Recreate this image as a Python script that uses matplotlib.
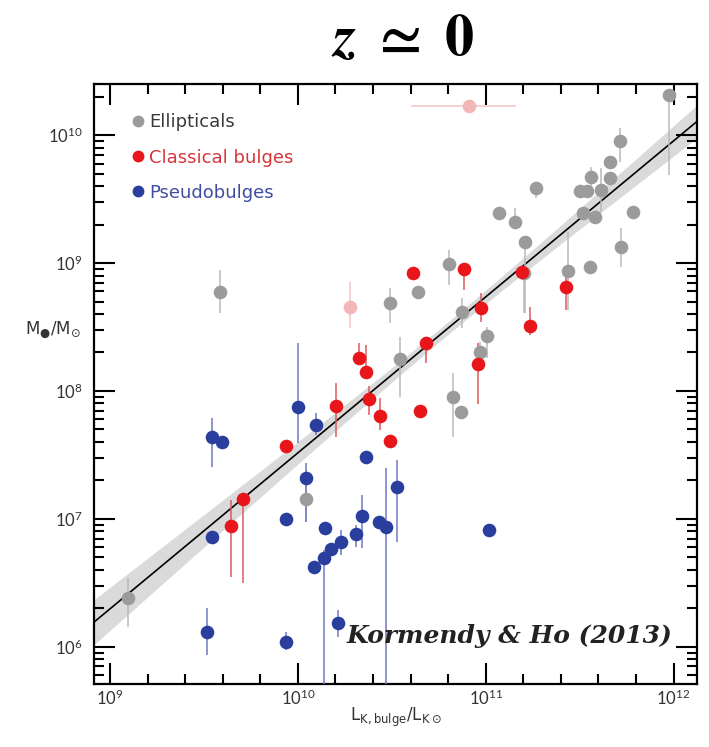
import numpy as np
import matplotlib
matplotlib.use("Agg")
import matplotlib.pyplot as plt
from matplotlib.ticker import FixedLocator, LogLocator, NullFormatter
from matplotlib.lines import Line2D

# ---- data (log10 values) -------------------------------------------------
# Ellipticals: log L_K, log M_BH, lower / upper error limits on log M_BH
ell_logL = [9.585, 10.489, 11.975, 11.713, 11.660, 11.663, 11.559, 11.503, 11.539,
            11.613, 11.517, 11.580, 11.784, 11.266, 11.071, 11.154, 11.211, 11.718,
            11.557, 11.438, 10.805, 11.202, 10.640, 10.874, 11.007, 10.968, 10.543,
            10.826, 10.871, 10.046, 9.097]
ell_logM = [8.777, 8.686, 10.315, 9.958, 9.794, 9.664, 9.672, 9.567, 9.567,
            9.572, 9.395, 9.363, 9.403, 9.590, 9.390, 9.320, 9.163, 9.129,
            8.967, 8.941, 8.991, 8.925, 8.772, 8.616, 8.430, 8.307, 8.248,
            7.951, 7.838, 7.153, 6.383]
ell_lo = [8.610, 8.532, 9.690, 9.794, 9.750, 9.620, 9.572, 9.530, 9.530,
          9.402, 9.360, 9.330, 9.360, 9.507, 9.350, 9.285, 8.608, 8.972,
          8.930, 8.634, 8.829, 8.608, 8.740, 8.490, 8.256, 8.230, 7.950,
          7.643, 7.800, 6.978, 6.156]
ell_hi = [8.946, 8.806, 10.350, 10.057, 9.840, 9.710, 9.754, 9.600, 9.600,
          9.742, 9.430, 9.400, 9.450, 9.637, 9.430, 9.429, 9.200, 9.273,
          9.000, 9.246, 9.103, 8.960, 8.810, 8.725, 8.503, 8.380, 8.420,
          8.140, 7.880, 7.382, 6.535]

# Classical bulges
cls_logL = [10.613, 10.883, 11.195, 11.429, 10.977, 11.237, 10.681, 10.959, 10.324,
            10.365, 10.379, 10.440, 10.489, 10.202, 9.936, 9.709, 9.644, 10.649]
cls_logM = [8.925, 8.952, 8.933, 8.816, 8.652, 8.511, 8.373, 8.211, 8.256,
            8.146, 7.937, 7.807, 7.609, 7.883, 7.570, 7.155, 6.946, 7.846]
cls_lo = [8.890, 8.790, 8.900, 8.634, 8.542, 8.438, 8.217, 7.900, 8.200,
          8.100, 7.810, 7.695, 7.580, 7.643, 7.540, 6.496, 6.547, 7.810]
cls_hi = [8.960, 8.990, 8.970, 8.933, 8.764, 8.660, 8.410, 8.373, 8.373,
          8.360, 8.040, 7.943, 7.640, 8.060, 7.600, 7.187, 7.147, 7.880]

# Classical bulges omitted from the fit
omit_logL = [10.277, 10.911]
omit_logM = [8.655, 10.229]
omit_lo = [8.490, 10.200]
omit_hi = [8.855, 10.260]
omit_L_lo = [10.277, 10.605]
omit_L_hi = [10.277, 11.163]

# Pseudobulges
psd_logL = [9.541, 9.594, 10.002, 10.099, 10.046, 10.362, 9.936, 9.541, 10.144,
            10.085, 10.138, 10.179, 10.232, 10.312, 10.344, 10.432, 10.468, 10.528,
            11.018, 9.514, 9.936, 10.214]
psd_logM = [7.643, 7.603, 7.877, 7.734, 7.317, 7.481, 6.996, 6.856, 6.931,
            6.626, 6.692, 6.764, 6.821, 6.879, 7.025, 6.978, 6.939, 7.251,
            6.913, 6.116, 6.040, 6.183]
psd_lo = [7.408, 7.603, 7.590, 7.656, 6.978, 7.481, 6.996, 6.856, 6.931,
          6.626, 5.000, 6.764, 6.717, 6.782, 6.770, 6.978, 5.000, 6.821,
          6.913, 5.935, 5.974, 6.078]
psd_hi = [7.787, 7.603, 8.376, 7.826, 7.435, 7.481, 6.996, 6.856, 6.931,
          6.626, 6.760, 6.764, 6.913, 6.952, 7.187, 6.978, 7.398, 7.460,
          6.913, 6.300, 6.117, 6.287]

# Fit: M_BH / 1e9 = A * (L / 1e11)^B
fit_A = 0.544
fit_B = 1.22

legend_labels = ["Ellipticals", "Classical bulges", "Pseudobulges"]

# ---- style ---------------------------------------------------------------
C_ELL, C_ELL_E = "#9b9b9b", "#b9b9b9"
C_CLS, C_CLS_E = "#e8151b", "#dd5a5a"
C_OMT, C_OMT_E = "#f3b6b6", "#f3c4c4"
C_PSD, C_PSD_E = "#2a3e9e", "#6f78c4"
TXT_ELL, TXT_CLS, TXT_PSD = "#3a3a3a", "#d6363a", "#3f4da0"

plt.rcParams["font.family"] = ["Lato", "DejaVu Sans"]
plt.rcParams["mathtext.fontset"] = "dejavusans"

fig = plt.figure(figsize=(7.09, 7.47), dpi=100)
ax = fig.add_axes([94 / 709, 1 - 684 / 747, 603 / 709, 600 / 747])
ax.set_xscale("log")
ax.set_yscale("log")
ax.set_xlim(10 ** 8.915, 10 ** 12.125)
ax.set_ylim(10 ** 5.708, 10 ** 10.401)

# regression line with its confidence band
gx = np.linspace(8.8, 12.3, 300)
gy = 9 + np.log10(fit_A) + fit_B * (gx - 11)
half = np.sqrt(0.05 ** 2 + (0.0896 * (gx - 10.8)) ** 2)
ax.fill_between(10 ** gx, 10 ** (gy - half), 10 ** (gy + half),
                color="#dadada", lw=0, zorder=1)
ax.plot(10 ** gx, 10 ** gy, color="black", lw=1.2, zorder=2)


def draw(logL, logM, lo, hi, col, ecol, xlo=None, xhi=None):
    L = 10 ** np.asarray(logL)
    M = 10 ** np.asarray(logM)
    yerr = [M - 10 ** np.asarray(lo), 10 ** np.asarray(hi) - M]
    xerr = None
    if xlo is not None:
        xerr = [L - 10 ** np.asarray(xlo), 10 ** np.asarray(xhi) - L]
    ax.errorbar(L, M, yerr=yerr, xerr=xerr, fmt="none", ecolor=ecol,
                elinewidth=1.1, capsize=0, zorder=3)
    ax.plot(L, M, "o", color=col, ms=9.8, mec="none", zorder=4)


draw(ell_logL, ell_logM, ell_lo, ell_hi, C_ELL, C_ELL_E)
draw(omit_logL, omit_logM, omit_lo, omit_hi, C_OMT, C_OMT_E, omit_L_lo, omit_L_hi)
draw(cls_logL, cls_logM, cls_lo, cls_hi, C_CLS, C_CLS_E)
draw(psd_logL, psd_logM, psd_lo, psd_hi, C_PSD, C_PSD_E)

# ticks
xmaj = [1e9, 1e10, 1e11, 1e12]
xmin = [10 ** (d + f) for d in range(8, 13) for f in (0.2, 0.4, 0.6, 0.8)]
ax.xaxis.set_major_locator(FixedLocator(xmaj))
ax.xaxis.set_minor_locator(FixedLocator(xmin))
ax.xaxis.set_minor_formatter(NullFormatter())
ax.yaxis.set_major_locator(LogLocator(base=10, numticks=20))
ax.yaxis.set_minor_locator(LogLocator(base=10, subs=np.arange(2, 10), numticks=20))
ax.yaxis.set_minor_formatter(NullFormatter())
ax.tick_params(which="both", direction="in", top=True, right=True,
               width=1.5, colors="black", labelcolor="#333333", labelsize=12)
ax.tick_params(which="major", length=15, pad=8)
ax.tick_params(axis="x", which="major", pad=3)
ax.tick_params(which="minor", length=7)
for s in ax.spines.values():
    s.set_linewidth(1.6)

ax.set_xlabel(r"$\mathrm{L}_{\mathrm{K,bulge}}/\mathrm{L}_{\mathrm{K}\odot}$",
              fontsize=12, color="#333333", labelpad=-1)
ax.text(-0.115, 0.59, r"$\mathrm{M}_{●}/\mathrm{M}_{\odot}$", transform=ax.transAxes,
        fontsize=12, color="#333333", ha="left", va="center")

# legend
handles = [Line2D([], [], ls="none", marker="o", ms=8.5, mec="none", color=c)
           for c in (C_ELL, C_CLS, C_PSD)]
leg = ax.legend(handles, legend_labels, loc="upper left",
                bbox_to_anchor=(0.028, 0.978), frameon=False,
                prop={"family": "DejaVu Sans", "size": 13},
                handletextpad=0.0, handlelength=1.2, labelspacing=0.95,
                labelcolor=[TXT_ELL, TXT_CLS, TXT_PSD])

ax.text(0.96, 0.08, "Kormendy & Ho (2013)", transform=ax.transAxes,
        ha="right", va="center", fontsize=18, fontweight="bold", style="italic",
        family="DejaVu Serif", color="#222222", zorder=6)

fig.text(0.568, 0.948, r"$\boldsymbol{z}\ \mathbf{\simeq}\ \mathbf{0}$", ha="center",
         va="center", fontsize=42, math_fontfamily="stix")

fig.savefig("out.png", dpi=100)
